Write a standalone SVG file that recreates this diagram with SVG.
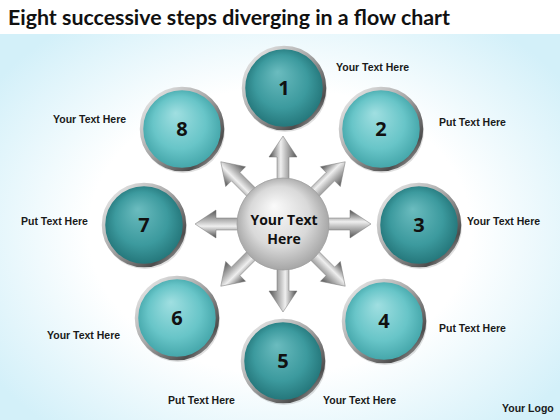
<svg xmlns="http://www.w3.org/2000/svg" xmlns:xlink="http://www.w3.org/1999/xlink" width="560" height="420" viewBox="0 0 560 420">
  <defs>
    <radialGradient id="bg" cx="50%" cy="55%" r="62%">
      <stop offset="0.55" stop-color="#ffffff"/>
      <stop offset="1" stop-color="#d3f0f9"/>
    </radialGradient>
    <radialGradient id="dark" cx="50%" cy="50%" r="55%" fx="42%" fy="30%">
      <stop offset="0" stop-color="#6bbcbf"/>
      <stop offset="0.6" stop-color="#3c9a9e"/>
      <stop offset="1" stop-color="#1f6e72"/>
    </radialGradient>
    <radialGradient id="light" cx="50%" cy="50%" r="55%" fx="42%" fy="30%">
      <stop offset="0" stop-color="#a0dfe1"/>
      <stop offset="0.6" stop-color="#68c5c8"/>
      <stop offset="1" stop-color="#3c9fa3"/>
    </radialGradient>
    <linearGradient id="ring" x1="0" y1="0" x2="1" y2="1">
      <stop offset="0" stop-color="#f2f2f2"/>
      <stop offset="0.45" stop-color="#a9a9a9"/>
      <stop offset="0.8" stop-color="#4d4d4d"/>
      <stop offset="1" stop-color="#d6d6d6"/>
    </linearGradient>
    <radialGradient id="sphere" cx="50%" cy="50%" r="55%" fx="40%" fy="30%">
      <stop offset="0" stop-color="#fafafa"/>
      <stop offset="0.6" stop-color="#d9d9d9"/>
      <stop offset="1" stop-color="#9c9c9c"/>
    </radialGradient>
    <linearGradient id="metal" x1="0" y1="0" x2="1" y2="0">
      <stop offset="0" stop-color="#4a4a4a"/>
      <stop offset="0.42" stop-color="#efefef"/>
      <stop offset="0.6" stop-color="#bdbdbd"/>
      <stop offset="1" stop-color="#555555"/>
    </linearGradient>
    <path id="arrow" d="M-6,-30 V-67 H-14 L0,-88 L14,-67 H6 V-30 Z" fill="url(#metal)" stroke="#777777" stroke-width="0.5"/>
  </defs>
  <style>
    .title { font-family: "Lato", "Open Sans", "Liberation Sans", sans-serif; font-weight: bold; font-size: 21px; fill: #111; }
    .lbl { font-family: "Liberation Sans", "Arial", sans-serif; font-weight: bold; font-size: 10.5px; fill: #1a1a1a; }
    .num { font-family: "Open Sans", "Liberation Sans", sans-serif; font-weight: bold; font-size: 20px; fill: #111; text-anchor: middle; }
    .ctr { font-family: "Open Sans", "Liberation Sans", sans-serif; font-weight: bold; font-size: 14px; fill: #111; text-anchor: middle; }
    .ring { fill: none; stroke: url(#ring); stroke-width: 3.5; }
    .shadow { fill: #000; opacity: 0.12; }
  </style>

  <rect width="560" height="420" fill="url(#bg)"/>
  <rect width="560" height="34" fill="#ffffff"/>
  <text class="title" x="8" y="25" textLength="442" lengthAdjust="spacingAndGlyphs">Eight successive steps diverging in a flow chart</text>

  <g id="connectors">
    <use xlink:href="#arrow" transform="translate(283,224) rotate(0)"/>
    <use xlink:href="#arrow" transform="translate(283,224) rotate(45)"/>
    <use xlink:href="#arrow" transform="translate(283,224) rotate(90)"/>
    <use xlink:href="#arrow" transform="translate(283,224) rotate(135)"/>
    <use xlink:href="#arrow" transform="translate(283,224) rotate(180)"/>
    <use xlink:href="#arrow" transform="translate(283,224) rotate(225)"/>
    <use xlink:href="#arrow" transform="translate(283,224) rotate(270)"/>
    <use xlink:href="#arrow" transform="translate(283,224) rotate(315)"/>
  </g>

  <g id="node-center">
    <circle cx="283" cy="224" r="46" fill="url(#sphere)" stroke="#a0a0a0" stroke-width="0.8"/>
    <text class="ctr" x="284" y="225">Your Text</text>
    <text class="ctr" x="284" y="244">Here</text>
  </g>

  <g id="node-1">
    <circle cx="285" cy="90" r="42" class="shadow"/>
    <circle cx="284" cy="88" r="40" fill="url(#dark)"/>
    <circle cx="284" cy="88" r="40.5" class="ring"/>
    <text class="num" x="284" y="95">1</text>
    <text class="lbl" x="336" y="71">Your Text Here</text>
  </g>
  <g id="node-2">
    <circle cx="382" cy="131" r="42" class="shadow"/>
    <circle cx="381" cy="129" r="40" fill="url(#light)"/>
    <circle cx="381" cy="129" r="40.5" class="ring"/>
    <text class="num" x="381" y="136">2</text>
    <text class="lbl" x="439" y="126">Put Text Here</text>
  </g>
  <g id="node-3">
    <circle cx="420" cy="227" r="42" class="shadow"/>
    <circle cx="419" cy="225" r="40" fill="url(#dark)"/>
    <circle cx="419" cy="225" r="40.5" class="ring"/>
    <text class="num" x="419" y="232">3</text>
    <text class="lbl" x="467" y="225">Your Text Here</text>
  </g>
  <g id="node-4">
    <circle cx="385" cy="323" r="42" class="shadow"/>
    <circle cx="384" cy="321" r="40" fill="url(#light)"/>
    <circle cx="384" cy="321" r="40.5" class="ring"/>
    <text class="num" x="384" y="328">4</text>
    <text class="lbl" x="439" y="332">Put Text Here</text>
  </g>
  <g id="node-5">
    <circle cx="284" cy="363" r="42" class="shadow"/>
    <circle cx="283" cy="361" r="40" fill="url(#dark)"/>
    <circle cx="283" cy="361" r="40.5" class="ring"/>
    <text class="num" x="283" y="368">5</text>
    <text class="lbl" x="323" y="404">Your Text Here</text>
    <text class="lbl" x="168" y="404">Put Text Here</text>
  </g>
  <g id="node-6">
    <circle cx="178" cy="320" r="42" class="shadow"/>
    <circle cx="177" cy="318" r="40" fill="url(#light)"/>
    <circle cx="177" cy="318" r="40.5" class="ring"/>
    <text class="num" x="177" y="325">6</text>
    <text class="lbl" x="47" y="339">Your Text Here</text>
  </g>
  <g id="node-7">
    <circle cx="145" cy="227" r="42" class="shadow"/>
    <circle cx="144" cy="225" r="40" fill="url(#dark)"/>
    <circle cx="144" cy="225" r="40.5" class="ring"/>
    <text class="num" x="144" y="232">7</text>
    <text class="lbl" x="21" y="225">Put Text Here</text>
  </g>
  <g id="node-8">
    <circle cx="183" cy="131" r="42" class="shadow"/>
    <circle cx="182" cy="129" r="40" fill="url(#light)"/>
    <circle cx="182" cy="129" r="40.5" class="ring"/>
    <text class="num" x="182" y="136">8</text>
    <text class="lbl" x="53" y="123">Your Text Here</text>
  </g>

  <text class="lbl" x="502" y="412">Your Logo</text>
</svg>
